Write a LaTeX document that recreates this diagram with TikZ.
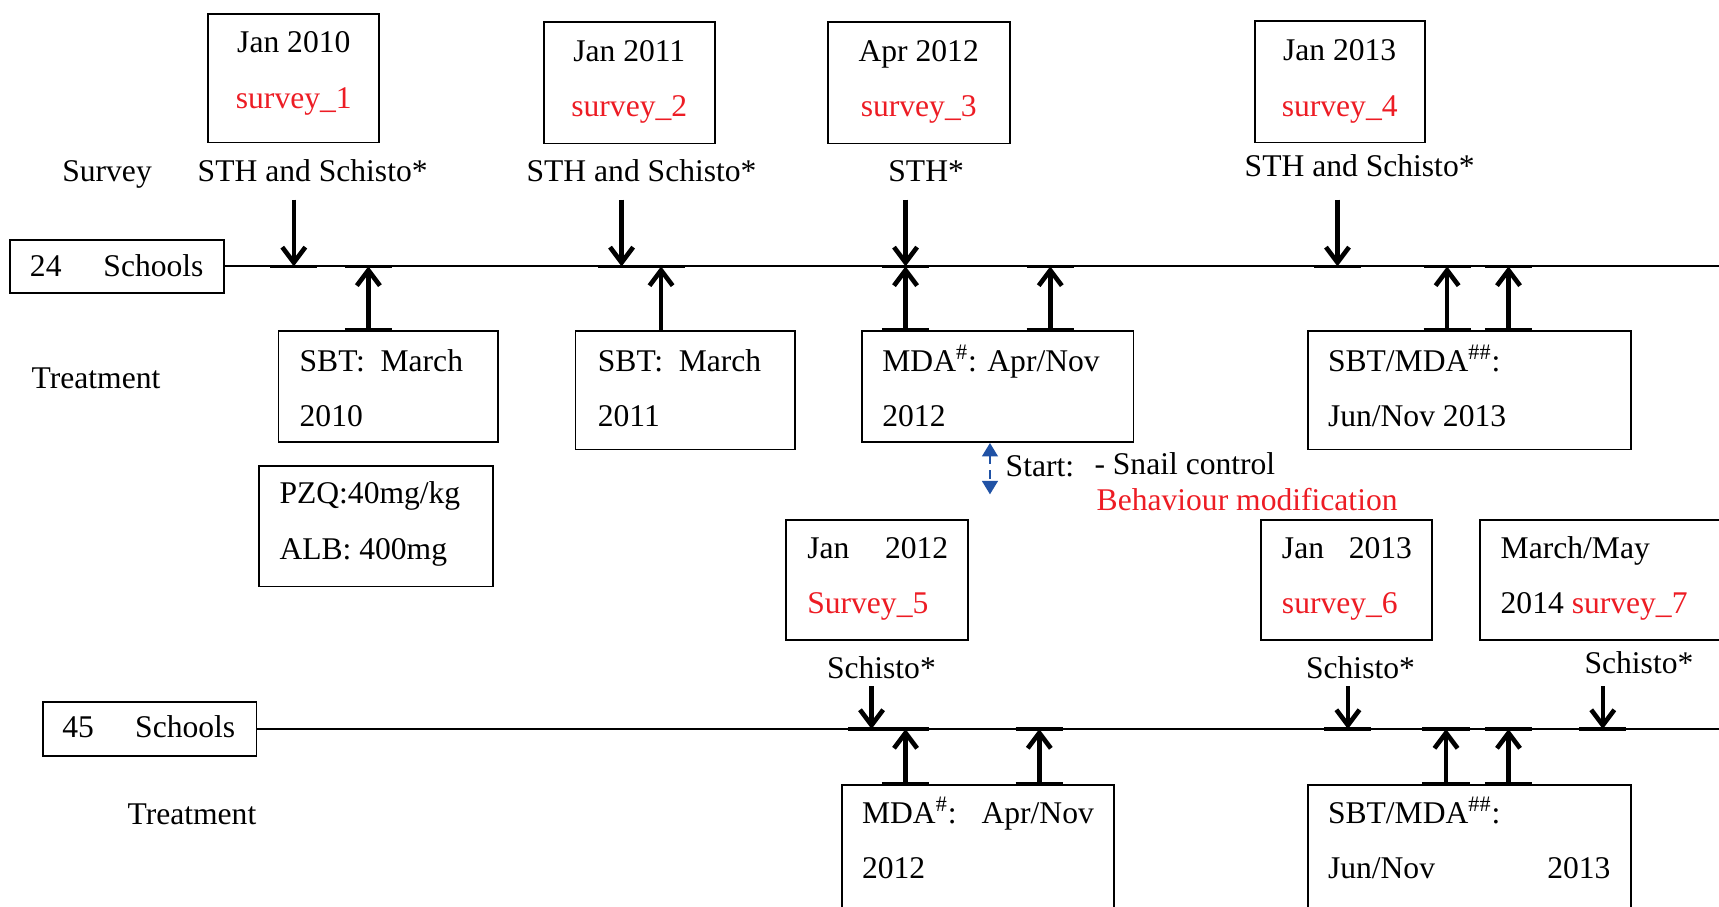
\documentclass[tikz,border=0pt]{standalone}
\usepackage{fontspec}
\setmainfont{Liberation Serif}
\usepackage{xcolor}
\usepackage{tikz}
\usetikzlibrary{math,arrows.meta}
\definecolor{survred}{RGB}{237,28,36}
\definecolor{startblue}{RGB}{32,82,165}

\begin{document}
\begin{tikzpicture}[x=0.02cm,y=-0.02cm,
	every node/.style={font=\fontsize{16.4}{20}\selectfont},
	box/.style={draw,line width=0.9pt,inner sep=0pt},
	txt/.style={inner sep=0pt,anchor=base west},
	ctxt/.style={inner sep=0pt,anchor=base},
	hit/.style={line width=2.4pt,-{Straight Barb[length=8pt,width=12pt]}},
	tick/.style={line width=1.9pt},
	tl/.style={line width=1.1pt}]
\useasboundingbox (0,0) rectangle (1568,827);
\clip (0,0) rectangle (1568,827);
\tikzmath{
	\ya = 243;\yb = 665;\yd = 182;\ye = 626;
	% survey boxes, 24 schools
	{\node[box,minimum width=3.12cm,minimum height=2.34cm] (s1) at (268,71.5) {};};
	{\node[box,minimum width=3.12cm,minimum height=2.22cm] (s2) at (574,75.5) {};};
	{\node[box,minimum width=3.32cm,minimum height=2.22cm] (s3) at (838,75.5) {};};
	{\node[box,minimum width=3.10cm,minimum height=2.22cm] (s4) at (1222.5,74.5) {};};
	{\node[ctxt] (s1a) at (268,48) {Jan 2010};};
	{\node[ctxt,survred] (s1b) at (268,99) {survey\_1};};
	{\node[ctxt] (s2a) at (574,56) {Jan 2011};};
	{\node[ctxt,survred] (s2b) at (574,106.5) {survey\_2};};
	{\node[ctxt] (s3a) at (838,56) {Apr 2012};};
	{\node[ctxt,survred] (s3b) at (838,106.5) {survey\_3};};
	{\node[ctxt] (s4a) at (1222,55.5) {Jan 2013};};
	{\node[ctxt,survred] (s4b) at (1222,106) {survey\_4};};
	{\node[txt] (survey) at (56.5,165.7) {Survey};};
	{\node[txt] (k1) at (180,165.7) {STH and Schisto*};};
	{\node[txt] (k2) at (480,165.7) {STH and Schisto*};};
	{\node[txt] (k3) at (810,165.7) {STH*};};
	{\node[txt] (k4) at (1135,161) {STH and Schisto*};};
	%
	{\node[box,line width=1pt,minimum width=3.9cm,minimum height=0.98cm] (sch1) at (106.5,\ya) {};};
	{\node[txt] (n1) at (27,252) {24};};
	{\node[txt] (n1s) at (94,252) {Schools};};
	{\coordinate (e1) at (1600,\ya);};
	{\draw[tl] (sch1.east) -- (e1);};
	%
	{\node[txt] (tr1) at (28.5,354) {Treatment};};
	{\node[box,minimum width=4cm,minimum height=2.02cm] (t1) at (354,352.5) {};};
	{\node[box,minimum width=4cm,minimum height=2.16cm] (t2) at (625,356) {};};
	{\node[box,minimum width=4.96cm,minimum height=2.02cm] (t3) at (910,352.5) {};};
	{\node[box,minimum width=5.9cm,minimum height=2.16cm] (t4) at (1340.5,356) {};};
	{\node[box,minimum width=4.28cm,minimum height=2.2cm] (pzq) at (343,480) {};};
	{\node[txt] (t1a) at (273,339) {SBT:\ \ March};};
	{\node[txt] (t1b) at (273,389) {2010};};
	{\node[txt] (t2a) at (545,339) {SBT:\ \ March};};
	{\node[txt] (t2b) at (545,389) {2011};};
	{\node[txt] (t3a) at (804.5,339) {MDA\textsuperscript{\#}: Apr/Nov};};
	{\node[txt] (t3b) at (804.5,389) {2012};};
	{\node[txt] (t4a) at (1211,339) {SBT/MDA\textsuperscript{\#\#}:};};
	{\node[txt] (t4b) at (1211,389) {Jun/Nov 2013};};
	{\node[txt] (pzqa) at (254.6,459) {PZQ:40mg/kg};};
	{\node[txt] (pzqb) at (254.6,510) {ALB: 400mg};};
	%
	{\coordinate (a1) at (268,\ya);};
	{\coordinate (a2) at (567,\ya);};
	{\coordinate (a3) at (826,\ya);};
	{\coordinate (a4) at (1220,\ya);};
	{\coordinate (a1t) at (268,\yd);};
	{\coordinate (a2t) at (567,\yd);};
	{\coordinate (a3t) at (826,\yd);};
	{\coordinate (a4t) at (1220,\yd);};
	{\draw[hit] (a1t) -- (a1);};
	{\draw[hit] (a2t) -- (a2);};
	{\draw[hit] (a3t) -- (a3);};
	{\draw[hit] (a4t) -- (a4);};
	{\coordinate (u1) at (336,\ya);};
	{\coordinate (u2) at (603,\ya);};
	{\coordinate (u3) at (826,\ya);};
	{\coordinate (u4) at (958,\ya);};
	{\coordinate (u5) at (1320,\ya);};
	{\coordinate (u6) at (1376,\ya);};
	{\draw[hit] (u1 |- t1.north) -- (u1);};
	{\draw[hit] (u2 |- t2.north) -- (u2);};
	{\draw[hit] (u3 |- t3.north) -- (u3);};
	{\draw[hit] (u4 |- t3.north) -- (u4);};
	{\draw[hit] (u5 |- t4.north) -- (u5);};
	{\draw[hit] (u6 |- t4.north) -- (u6);};
	{\draw[tick] ([xshift=-0.43cm]a1) -- ([xshift=0.43cm]a1);};
	{\draw[tick] ([xshift=-0.43cm]a2) -- ([xshift=0.43cm]u2);};
	{\draw[tick] ([xshift=-0.43cm]a3) -- ([xshift=0.43cm]a3);};
	{\draw[tick] ([xshift=-0.43cm]a4) -- ([xshift=0.43cm]a4);};
	{\draw[tick] ([xshift=-0.43cm]u1) -- ([xshift=0.43cm]u1);};
	{\draw[tick] ([xshift=-0.43cm]u4) -- ([xshift=0.43cm]u4);};
	{\draw[tick] ([xshift=-0.43cm]u5) -- ([xshift=0.43cm]u5);};
	{\draw[tick] ([xshift=-0.43cm]u6) -- ([xshift=0.43cm]u6);};
	{\draw[tick] ([xshift=-0.43cm]u1 |- t1.north) -- ([xshift=0.43cm]u1 |- t1.north);};
	{\draw[tick] ([xshift=-0.43cm]u3 |- t3.north) -- ([xshift=0.43cm]u3 |- t3.north);};
	{\draw[tick] ([xshift=-0.43cm]u4 |- t3.north) -- ([xshift=0.43cm]u4 |- t3.north);};
	{\draw[tick] ([xshift=-0.43cm]u5 |- t4.north) -- ([xshift=0.43cm]u5 |- t4.north);};
	{\draw[tick] ([xshift=-0.43cm]u6 |- t4.north) -- ([xshift=0.43cm]u6 |- t4.north);};
	%
	{\coordinate (bt) at (903,404);};
	{\coordinate (bb) at (903,451);};
	{\draw[startblue,line width=1.5pt,dash pattern=on 4.5pt off 3pt,
		{Triangle[length=7pt,width=8pt]}-{Triangle[length=7pt,width=8pt]}] (bt) -- (bb);};
	{\node[txt] (start) at (917,434.8) {Start:};};
	{\node[txt] (snail) at (998,433) {- Snail control};};
	{\node[txt,survred] (behav) at (1000,466) {Behaviour modification};};
	%
	% survey boxes, 45 schools
	{\node[box,minimum width=3.32cm,minimum height=2.2cm] (s5) at (800,529) {};};
	{\node[box,minimum width=3.12cm,minimum height=2.2cm] (s6) at (1228,529) {};};
	{\node[box,minimum width=5.4cm,minimum height=2.2cm] (s7) at (1485,529) {};};
	{\node[txt] (s5a) at (736,509) {Jan};};
	{\node[txt] (s5c) at (807,509) {2012};};
	{\node[txt,survred] (s5b) at (736,559.5) {Survey\_5};};
	{\node[txt] (s6a) at (1169,509) {Jan};};
	{\node[txt] (s6c) at (1230,509) {2013};};
	{\node[txt,survred] (s6b) at (1169,559.5) {survey\_6};};
	{\node[txt] (s7a) at (1368.5,509) {March/May};};
	{\node[txt] (s7b) at (1368.5,559.5) {2014 \textcolor{survred}{survey\_7}};};
	{\node[txt] (k5) at (754,619) {Schisto*};};
	{\node[txt] (k6) at (1191,619) {Schisto*};};
	{\node[txt] (k7) at (1445,614) {Schisto*};};
	%
	{\node[box,line width=1pt,minimum width=3.9cm,minimum height=1cm] (sch2) at (136.5,\yb) {};};
	{\node[txt] (n2) at (56.5,673) {45};};
	{\node[txt] (n2s) at (123,673) {Schools};};
	{\coordinate (e2) at (1600,\yb);};
	{\draw[tl] (sch2.east) -- (e2);};
	{\node[txt] (tr2) at (116,752.5) {Treatment};};
	{\node[box,minimum width=4.96cm,minimum height=3.08cm] (b1) at (892,793) {};};
	{\node[box,minimum width=5.9cm,minimum height=3.08cm] (b2) at (1340.5,793) {};};
	{\node[txt] (b1a) at (786,751) {MDA\textsuperscript{\#}:};};
	{\node[txt] (b1c) at (895,751) {Apr/Nov};};
	{\node[txt] (b1b) at (786,801) {2012};};
	{\node[txt] (b2a) at (1211,751) {SBT/MDA\textsuperscript{\#\#}:};};
	{\node[txt] (b2b) at (1211,801) {Jun/Nov};};
	{\node[txt] (b2c) at (1411,801) {2013};};
	%
	{\coordinate (d1) at (795,\yb);};
	{\coordinate (d2) at (1229.5,\yb);};
	{\coordinate (d3) at (1462,\yb);};
	{\coordinate (d1t) at (795,\ye);};
	{\coordinate (d2t) at (1229.5,\ye);};
	{\coordinate (d3t) at (1462,\ye);};
	{\draw[hit] (d1t) -- (d1);};
	{\draw[hit] (d2t) -- (d2);};
	{\draw[hit] (d3t) -- (d3);};
	{\coordinate (v1) at (826,\yb);};
	{\coordinate (v2) at (948,\yb);};
	{\coordinate (v3) at (1319,\yb);};
	{\coordinate (v4) at (1376,\yb);};
	{\draw[hit] (v1 |- b1.north) -- (v1);};
	{\draw[hit] (v2 |- b1.north) -- (v2);};
	{\draw[hit] (v3 |- b2.north) -- (v3);};
	{\draw[hit] (v4 |- b2.north) -- (v4);};
	{\draw[tick] ([xshift=-0.43cm]d1) -- ([xshift=0.43cm]v1);};
	{\draw[tick] ([xshift=-0.43cm]v2) -- ([xshift=0.43cm]v2);};
	{\draw[tick] ([xshift=-0.43cm]d2) -- ([xshift=0.43cm]d2);};
	{\draw[tick] ([xshift=-0.43cm]v3) -- ([xshift=0.43cm]v3);};
	{\draw[tick] ([xshift=-0.43cm]v4) -- ([xshift=0.43cm]v4);};
	{\draw[tick] ([xshift=-0.43cm]d3) -- ([xshift=0.43cm]d3);};
	{\draw[tick] ([xshift=-0.43cm]v1 |- b1.north) -- ([xshift=0.43cm]v1 |- b1.north);};
	{\draw[tick] ([xshift=-0.43cm]v2 |- b1.north) -- ([xshift=0.43cm]v2 |- b1.north);};
	{\draw[tick] ([xshift=-0.43cm]v3 |- b2.north) -- ([xshift=0.43cm]v3 |- b2.north);};
	{\draw[tick] ([xshift=-0.43cm]v4 |- b2.north) -- ([xshift=0.43cm]v4 |- b2.north);};
};
\end{tikzpicture}
\end{document}
